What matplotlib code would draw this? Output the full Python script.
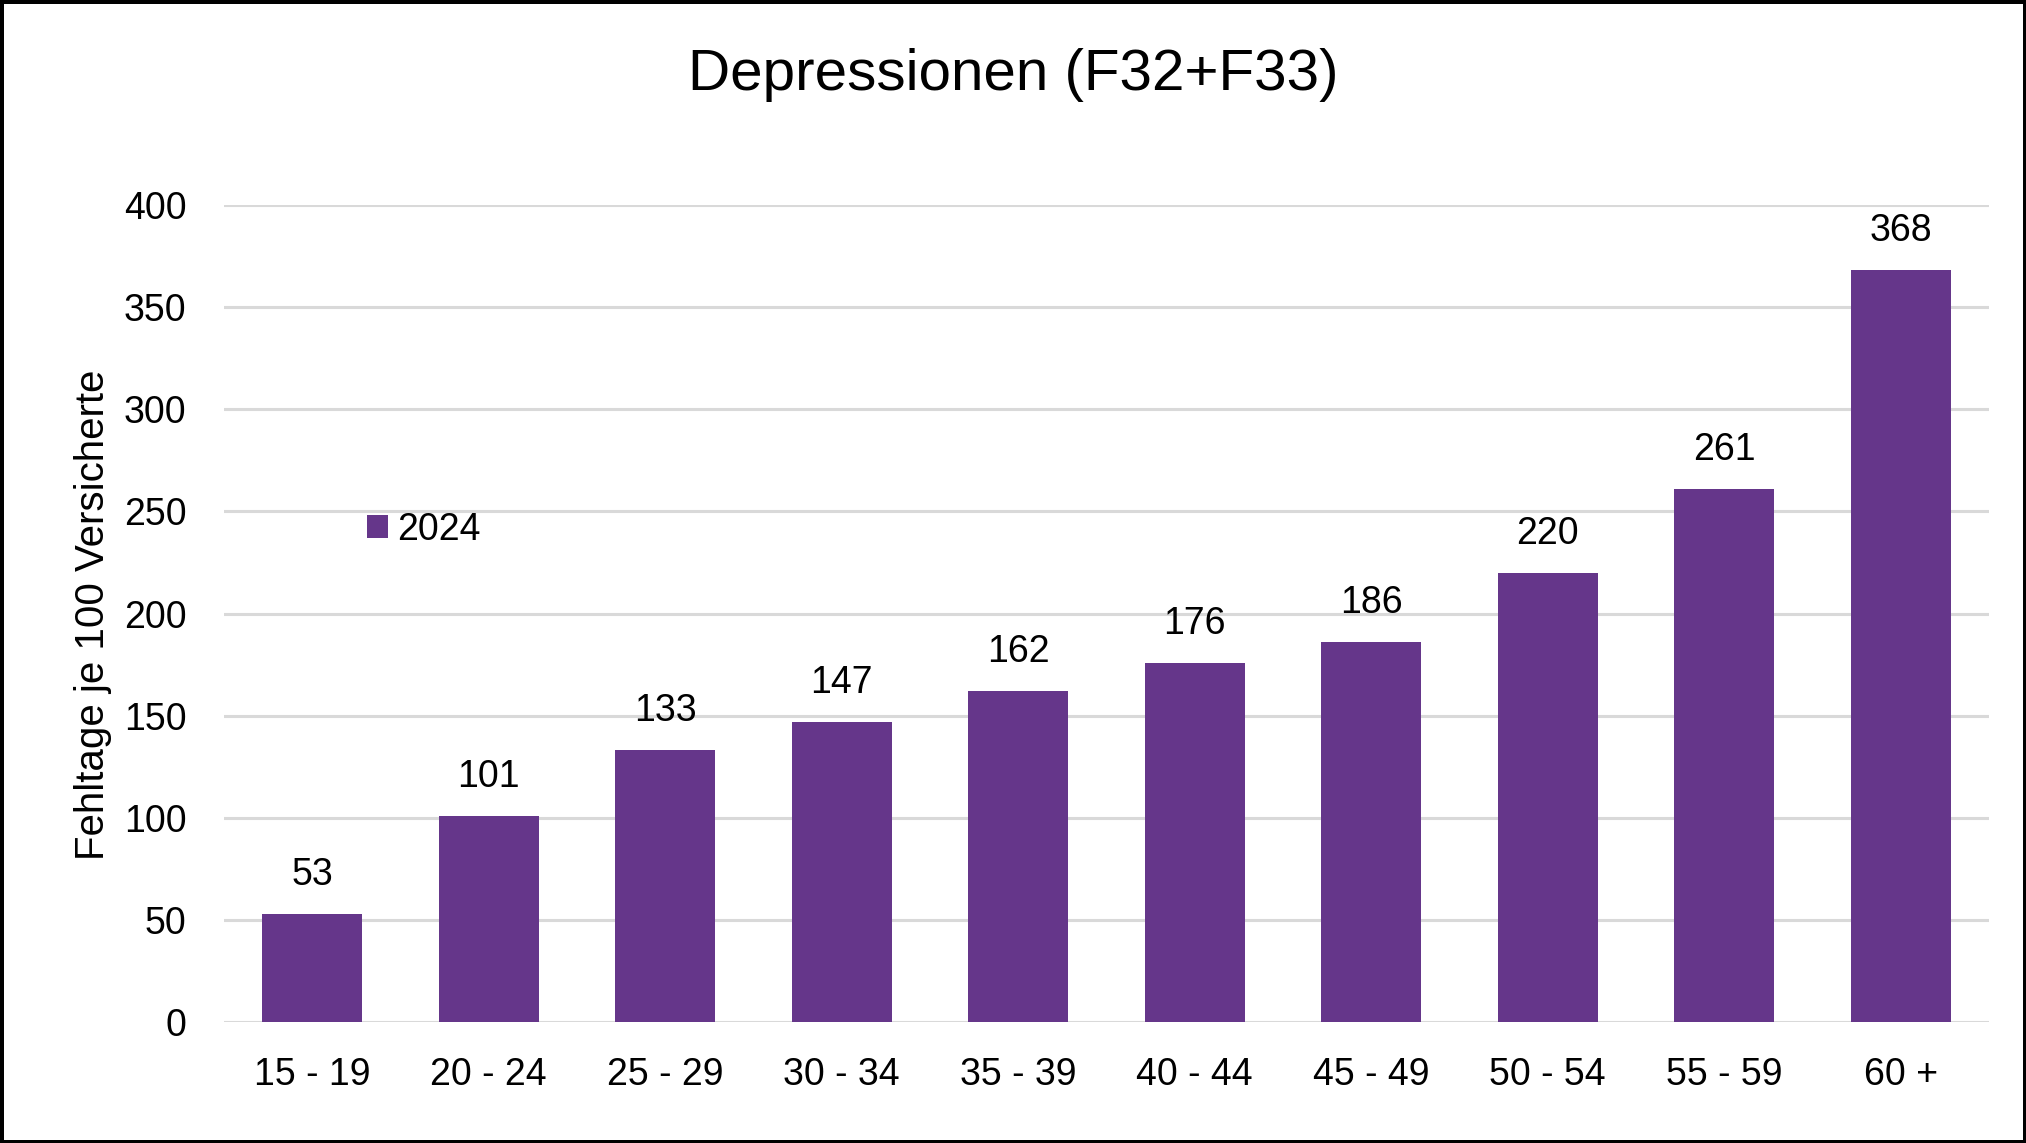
import matplotlib
matplotlib.use("Agg")
import matplotlib.pyplot as plt
from matplotlib import font_manager

categories = ["15 - 19", "20 - 24", "25 - 29", "30 - 34", "35 - 39",
              "40 - 44", "45 - 49", "50 - 54", "55 - 59", "60 +"]
values_2024 = [53, 101, 133, 147, 162, 176, 186, 220, 261, 368]
yticks = [0, 50, 100, 150, 200, 250, 300, 350, 400]
series_name = "2024"
title = "Depressionen (F32+F33)"
ylabel = "Fehltage je 100 Versicherte"

names = {f.name for f in font_manager.fontManager.ttflist}
fam = [f for f in ["Liberation Sans Narrow", "Arial Narrow", "Liberation Sans", "DejaVu Sans"] if f in names]
plt.rcParams['font.family'] = fam

W, H = 2026, 1143
fig = plt.figure(figsize=(W / 100, H / 100), dpi=100)
fig.patch.set_facecolor("white")
fig.patch.set_edgecolor("black")
fig.patch.set_linewidth(5)

left, right = 224, 1989
y0, ytop = 1022, 205
ax = fig.add_axes([left / W, 1 - y0 / H, (right - left) / W, (y0 - ytop) / H])

color = "#65368A"
x = list(range(len(categories)))
ax.bar(x, values_2024, width=0.567, color=color, label=series_name, zorder=3)

ax.set_xlim(-0.5, len(categories) - 0.5)
ax.set_ylim(0, 400)
ax.set_yticks(yticks)
ax.set_yticklabels([str(t) for t in yticks])
ax.set_xticks(x)
ax.set_xticklabels(categories)
ax.grid(axis="y", color="#D9D9D9", linewidth=2.2, zorder=0)
ax.set_axisbelow(True)
for s in ax.spines.values():
    s.set_visible(False)
ax.tick_params(axis="both", length=0, labelsize=27)
ax.tick_params(axis="y", pad=27)
ax.tick_params(axis="x", pad=25)

for xi, v in zip(x, values_2024):
    ax.annotate(str(v), (xi, v), xytext=(0, 28), textcoords="offset points",
                ha="center", va="center", fontsize=27, clip_on=False)

fig.text(1013 / W, 1 - 75 / H, title, ha="center", va="center", fontsize=42)
fig.text(93 / W, 1 - 615 / H, ylabel, ha="center", va="center", rotation=90, fontsize=29)

ax.legend(loc="center left", bbox_to_anchor=(367 / W, 1 - 530 / H),
          bbox_transform=fig.transFigure, frameon=False, fontsize=27,
          handlelength=0.56, handleheight=0.56, handletextpad=0.25,
          borderpad=0, borderaxespad=0)

fig.savefig("out.png", dpi=100, facecolor=fig.get_facecolor(), edgecolor=fig.get_edgecolor())
